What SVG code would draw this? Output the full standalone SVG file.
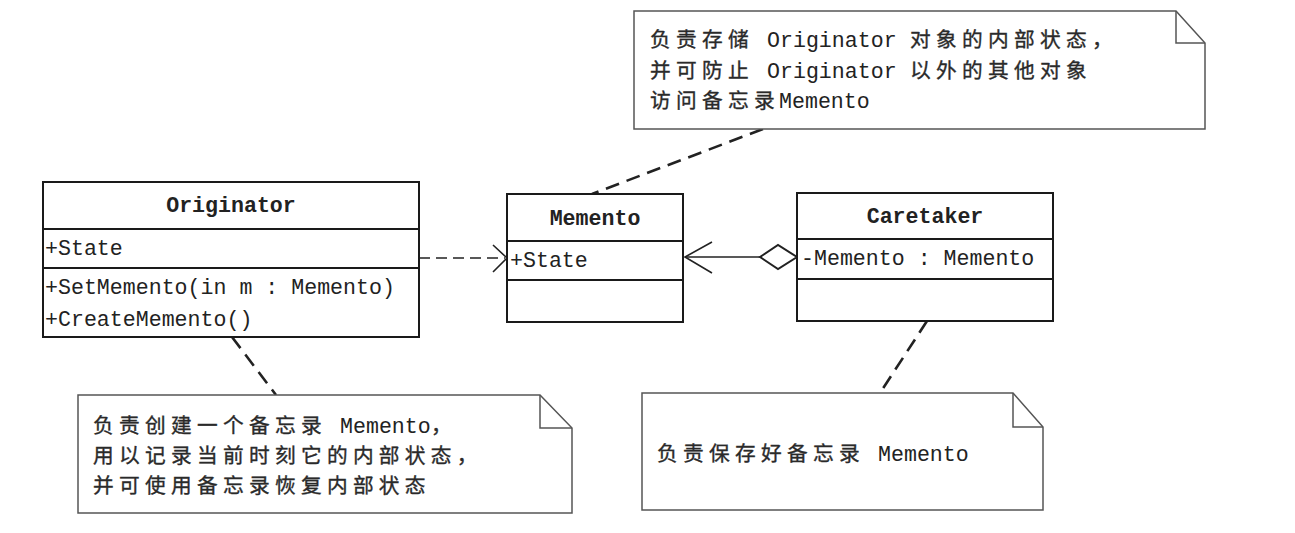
<svg xmlns="http://www.w3.org/2000/svg" width="1295" height="533" viewBox="0 0 1295 533">
<style>
.box{fill:#fff;stroke:#1a1a1a;stroke-width:2}
.div{stroke:#1a1a1a;stroke-width:2}
.note{fill:#fff;stroke:#555;stroke-width:1.5}
.fold{fill:none;stroke:#555;stroke-width:1.5}
.m{font-family:"Liberation Mono",monospace;font-size:21.6px;fill:#222}
.b{font-weight:bold}
.c{font-family:"Noto Sans CJK SC","Noto Sans CJK JP",sans-serif;font-size:20.7px;letter-spacing:5.3px;fill:#2a2a2a;stroke:#2a2a2a;stroke-width:0.35px}
.dash{fill:none;stroke:#222;stroke-width:1.6;stroke-dasharray:11 6}
.ndash{fill:none;stroke:#222;stroke-width:2.6;stroke-dasharray:14 8}
.line{fill:none;stroke:#222;stroke-width:1.6}
</style>
<rect width="1295" height="533" fill="#fff"/>
<g id="connectors">
<path class="ndash" d="M763,129 L592,194"/>
<path class="ndash" d="M232,337 L276,395"/>
<path class="ndash" d="M927,321 L880,393"/>
<path class="dash" d="M419,258 L505,258"/>
<path class="line" d="M493,245 L507,258 L493,272"/>
<path class="line" d="M685,257 L760,257"/>
<path class="line" d="M712,242 L685,257 L712,273"/>
<path d="M760,257 L778,245 L797,257 L778,269 Z" fill="#fff" stroke="#222" stroke-width="2"/>
</g>
<g id="originator">
<rect class="box" x="43" y="182" width="376" height="155"/>
<line class="div" x1="43" y1="229" x2="419" y2="229"/>
<line class="div" x1="43" y1="268" x2="419" y2="268"/>
<text class="m b" x="231" y="212" text-anchor="middle">Originator</text>
<text class="m" x="45" y="255">+State</text>
<text class="m" x="45" y="294">+SetMemento(in m : Memento)</text>
<text class="m" x="45" y="326">+CreateMemento()</text>
</g>
<g id="memento">
<rect class="box" x="507" y="194" width="176" height="128"/>
<line class="div" x1="507" y1="241" x2="683" y2="241"/>
<line class="div" x1="507" y1="280" x2="683" y2="280"/>
<text class="m b" x="595" y="225" text-anchor="middle">Memento</text>
<text class="m" x="510" y="267">+State</text>
</g>
<g id="caretaker">
<rect class="box" x="797" y="193" width="256" height="128"/>
<line class="div" x1="797" y1="239" x2="1053" y2="239"/>
<line class="div" x1="797" y1="279" x2="1053" y2="279"/>
<text class="m b" x="925" y="223" text-anchor="middle">Caretaker</text>
<text class="m" x="801" y="265">-Memento : Memento</text>
</g>
<g id="note-memento">
<path class="note" d="M634,11 L1176,11 L1205,43 L1205,129 L634,129 Z"/>
<path class="fold" d="M1176,11 L1176,43 L1205,43"/>
<text y="47"><tspan class="c" x="650">负责存储</tspan><tspan class="m" x="767">Originator</tspan><tspan class="c" x="910">对象的内部状态，</tspan></text>
<text y="78"><tspan class="c" x="650">并可防止</tspan><tspan class="m" x="767">Originator</tspan><tspan class="c" x="910">以外的其他对象</tspan></text>
<text y="108"><tspan class="c" x="650">访问备忘录</tspan><tspan class="m" x="779">Memento</tspan></text>
</g>
<g id="note-originator">
<path class="note" d="M78,395 L540,395 L572,428 L572,513 L78,513 Z"/>
<path class="fold" d="M540,395 L540,428 L572,428"/>
<text y="433"><tspan class="c" x="93">负责创建一个备忘录</tspan><tspan class="m" x="340">Memento</tspan><tspan class="c" x="431">，</tspan></text>
<text class="c" x="93" y="463">用以记录当前时刻它的内部状态，</text>
<text class="c" x="93" y="493">并可使用备忘录恢复内部状态</text>
</g>
<g id="note-caretaker">
<path class="note" d="M642,393 L1013,393 L1043,427 L1043,510 L642,510 Z"/>
<path class="fold" d="M1013,393 L1013,427 L1043,427"/>
<text y="461"><tspan class="c" x="657">负责保存好备忘录</tspan><tspan class="m" x="878">Memento</tspan></text>
</g>
</svg>
